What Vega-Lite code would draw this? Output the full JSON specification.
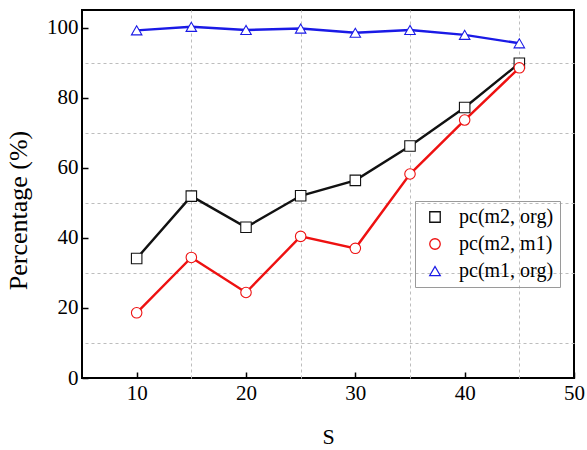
{
  "$schema": "https://vega.github.io/schema/vega-lite/v6.json",
  "width": 492,
  "height": 368,
  "autosize": "none",
  "padding": {"left": 82, "top": 10, "right": 13, "bottom": 72},
  "background": "white",
  "config": {
    "font": "Liberation Serif",
    "view": {"stroke": "black", "strokeWidth": 2},
    "axis": {
      "labelFont": "Liberation Serif", "labelFontSize": 21, "labelColor": "black",
      "titleFont": "Liberation Serif", "titleFontWeight": "normal", "titleColor": "black"
    },
    "axisX": {"titleFontSize": 22},
    "axisY": {"titleFontSize": 26},
    "legend": {"labelFont": "Liberation Serif", "labelFontSize": 20}
  },
  "data": {
    "values": [
      {"S": 10, "value": 34.1, "series": "pc(m2, org)"},
      {"S": 15, "value": 51.9, "series": "pc(m2, org)"},
      {"S": 20, "value": 43.0, "series": "pc(m2, org)"},
      {"S": 25, "value": 52.0, "series": "pc(m2, org)"},
      {"S": 30, "value": 56.4, "series": "pc(m2, org)"},
      {"S": 35, "value": 66.2, "series": "pc(m2, org)"},
      {"S": 40, "value": 77.2, "series": "pc(m2, org)"},
      {"S": 45, "value": 89.8, "series": "pc(m2, org)"},
      {"S": 10, "value": 18.6, "series": "pc(m2, m1)"},
      {"S": 15, "value": 34.4, "series": "pc(m2, m1)"},
      {"S": 20, "value": 24.4, "series": "pc(m2, m1)"},
      {"S": 25, "value": 40.4, "series": "pc(m2, m1)"},
      {"S": 30, "value": 37.0, "series": "pc(m2, m1)"},
      {"S": 35, "value": 58.2, "series": "pc(m2, m1)"},
      {"S": 40, "value": 73.6, "series": "pc(m2, m1)"},
      {"S": 45, "value": 88.5, "series": "pc(m2, m1)"},
      {"S": 10, "value": 99.2, "series": "pc(m1, org)"},
      {"S": 15, "value": 100.2, "series": "pc(m1, org)"},
      {"S": 20, "value": 99.3, "series": "pc(m1, org)"},
      {"S": 25, "value": 99.7, "series": "pc(m1, org)"},
      {"S": 30, "value": 98.5, "series": "pc(m1, org)"},
      {"S": 35, "value": 99.3, "series": "pc(m1, org)"},
      {"S": 40, "value": 97.9, "series": "pc(m1, org)"},
      {"S": 45, "value": 95.5, "series": "pc(m1, org)"}
    ]
  },
  "layer": [
    {
      "mark": {"type": "line", "strokeWidth": 2.4},
      "encoding": {
        "x": {
          "field": "S", "type": "quantitative",
          "scale": {"domain": [5, 50], "nice": false},
          "axis": {
            "orient": "bottom",
            "values": [10, 20, 30, 40, 50],
            "grid": false, "domain": false,
            "ticks": true, "tickSize": -6, "tickWidth": 1.5, "tickColor": "black",
            "labelFont": "Liberation Serif", "labelFontSize": 21, "labelColor": "black",
            "labelPadding": 10, "labelFlush": false,
            "title": "S", "titleFont": "Liberation Serif", "titleFontSize": 22,
            "titleFontWeight": "normal", "titleColor": "black",
            "titleX": 246, "titleY": 58, "titleBaseline": "middle", "titleAlign": "center"
          }
        },
        "y": {
          "field": "value", "type": "quantitative",
          "scale": {"domain": [0, 105], "nice": false},
          "axis": {
            "orient": "left",
            "values": [0, 20, 40, 60, 80, 100],
            "grid": false, "domain": false,
            "ticks": true, "tickSize": -6, "tickWidth": 1.5, "tickColor": "black",
            "labelFont": "Liberation Serif", "labelFontSize": 21, "labelColor": "black",
            "labelPadding": 10, "labelFlush": false,
            "title": "Percentage (%)", "titleFont": "Liberation Serif", "titleFontSize": 26,
            "titleFontWeight": "normal", "titleColor": "black",
            "titleX": -64, "titleY": 200, "titleAngle": -90,
            "titleBaseline": "middle", "titleAlign": "center"
          }
        },
        "color": {
          "field": "series", "type": "nominal",
          "scale": {
            "domain": ["pc(m2, org)", "pc(m2, m1)", "pc(m1, org)"],
            "range": ["#111111", "#ee1111", "#1a1ae6"]
          }
        }
      }
    },
    {
      "mark": {"type": "point", "filled": false, "fill": "white", "strokeWidth": 1.1, "size": 110, "opacity": 1},
      "encoding": {
        "x": {
          "field": "S", "type": "quantitative",
          "axis": {
            "orient": "top",
            "values": [15, 25, 35, 45],
            "grid": true, "gridColor": "#bdbdbd", "gridDash": [3, 3], "gridWidth": 1,
            "labels": false, "ticks": false, "domain": false, "title": null
          }
        },
        "y": {
          "field": "value", "type": "quantitative",
          "axis": {
            "orient": "right",
            "values": [10, 30, 50, 70, 90],
            "grid": true, "gridColor": "#bdbdbd", "gridDash": [3, 3], "gridWidth": 1,
            "labels": false, "ticks": false, "domain": false, "title": null
          }
        },
        "color": {
          "field": "series", "type": "nominal",
          "legend": {
            "orient": "none",
            "legendX": 333,
            "legendY": 191,
            "title": null,
            "strokeColor": "#9a9a9a",
            "padding": 6,
            "rowPadding": 7,
            "symbolSize": 110,
            "symbolStrokeWidth": 1.3,
            "symbolOffset": 4,
            "labelOffset": 14,
            "labelFont": "Liberation Serif",
            "labelFontSize": 20,
            "labelColor": "black"
          }
        },
        "shape": {
          "field": "series", "type": "nominal",
          "scale": {
            "domain": ["pc(m2, org)", "pc(m2, m1)", "pc(m1, org)"],
            "range": ["square", "circle", "triangle-up"]
          }
        }
      }
    }
  ],
  "resolve": {"axis": {"x": "independent", "y": "independent"}}
}
